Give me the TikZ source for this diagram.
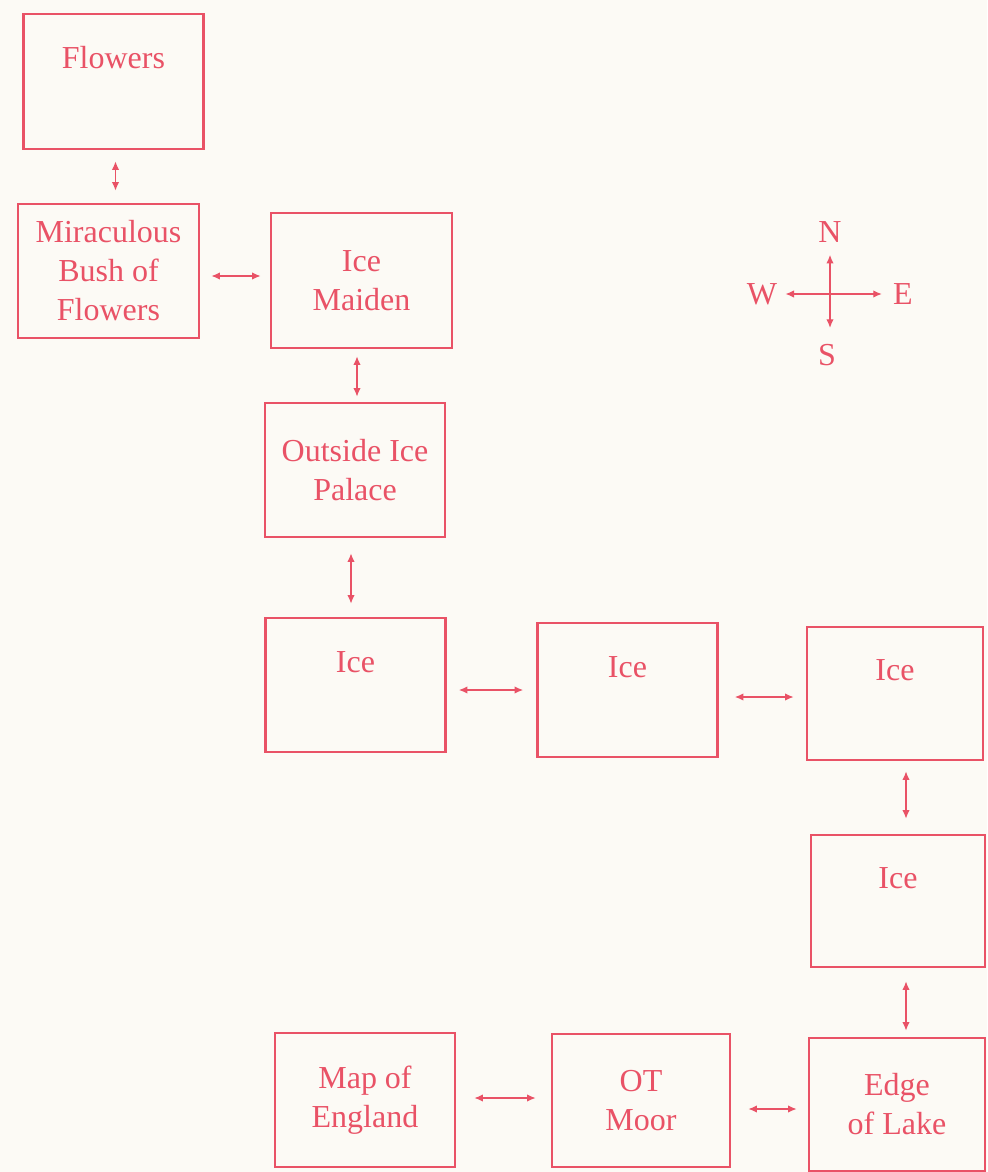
\documentclass[tikz,border=0pt]{standalone}
\usepackage{fontspec}
\setmainfont{Liberation Serif}
\usetikzlibrary{arrows.meta}
\definecolor{inkred}{RGB}{233,82,102}
\definecolor{paper}{RGB}{252,250,245}
\newcommand{\roomfont}{\fontsize{16}{19.5}\selectfont}
\tikzset{
  room/.style={draw=inkred,line width=1.4pt,minimum width=90pt,minimum height=67pt,
    inner sep=0pt,align=center,text=inkred,font=\roomfont},
  upper/.style={text height=11pt,text depth=24pt},
  pole/.style={inner sep=0pt,text=inkred,font=\roomfont},
  link/.style={{Latex[length=1.5mm,width=1.3mm]}-{Latex[length=1.5mm,width=1.3mm]},
    inkred,line width=0.6pt},
  point/.style={-{Latex[length=1.5mm,width=1.3mm]},inkred,line width=0.6pt}
}

\begin{document}
\begin{tikzpicture}[x=0.5pt,y=-0.5pt]
  \fill[paper] (0,0) rectangle (987,1172);
  \useasboundingbox (0,0) rectangle (987,1172);

  \node[room,upper,minimum height=67.5pt] (flowers) at (113.5,81.5) {Flowers};
  \node[room,minimum width=90.5pt] (bush) at (108.5,271) {Miraculous\\Bush of\\Flowers};
  \node[room,minimum width=90.5pt,minimum height=67.5pt] (maiden) at (361.5,280.5) {Ice\\Maiden};
  \node[room] (outside) at (355,470) {Outside Ice\\Palace};
  \node[room,upper] (ice1) at (355.5,685) {Ice};
  \node[room,upper] (ice2) at (627.5,690) {Ice};
  \node[room,upper,minimum width=88pt,minimum height=66.5pt] (ice3) at (895,693.5) {Ice};
  \node[room,upper,minimum width=87pt,minimum height=66pt] (ice4) at (898,901) {Ice};
  \node[room,minimum width=88pt,minimum height=66.5pt] (lake) at (897,1104.5) {Edge\\of Lake};
  \node[room] (england) at (365,1100) {Map of\\England};
  \node[room,minimum width=89pt,minimum height=66.5pt] (moor) at (641,1100.5) {OT\\Moor};

  \draw[link,shorten <=5.5pt,shorten >=6pt] ([xshift=1pt]flowers.south) -- ([xshift=3.5pt]bush.north);
  \draw[link,shorten <=5.5pt,shorten >=4.5pt] ([yshift=-2.5pt]bush.east) -- ([yshift=2.25pt]maiden.west);
  \draw[link,shorten <=3.5pt,shorten >=2.5pt] ([xshift=-2.25pt]maiden.south) -- ([xshift=1pt]outside.north);
  \draw[link,shorten <=7.5pt,shorten >=6.5pt] ([xshift=-2pt]outside.south) -- ([xshift=-2.25pt]ice1.north);
  \draw[link,shorten <=6pt,shorten >=6.5pt] ([yshift=-2.5pt]ice1.east) -- (ice2.west);
  \draw[link,shorten <=8pt,shorten >=6pt] ([yshift=-3.5pt]ice2.east) -- ([yshift=-1.75pt]ice3.west);
  \draw[link,shorten <=5pt,shorten >=7.5pt] ([xshift=5.5pt]ice3.south) -- ([xshift=4pt]ice4.north);
  \draw[link,shorten <=6.5pt,shorten >=3pt] ([xshift=4pt]ice4.south) -- ([xshift=4.5pt]lake.north);
  \draw[link,shorten <=9pt,shorten >=7.5pt] ([yshift=1pt]england.east) -- ([yshift=1.25pt]moor.west);
  \draw[link,shorten <=8.5pt,shorten >=5.5pt] ([yshift=-4.25pt]moor.east) -- ([yshift=-2.25pt]lake.west);

  \coordinate (hub) at (830,294);
  \node[pole] (north) at (830,232) {N};
  \node[pole] (south) at (827,355) {S};
  \node[pole] (west) at (762,294) {W};
  \node[pole] (east) at (903,294) {E};
  \draw[point,shorten >=6pt] (hub) -- (north);
  \draw[point,shorten >=8pt] (hub) -- (hub |- south.north);
  \draw[point,shorten >=4pt] (hub) -- (west);
  \draw[point,shorten >=5.5pt] (hub) -- (east);
\end{tikzpicture}
\end{document}
